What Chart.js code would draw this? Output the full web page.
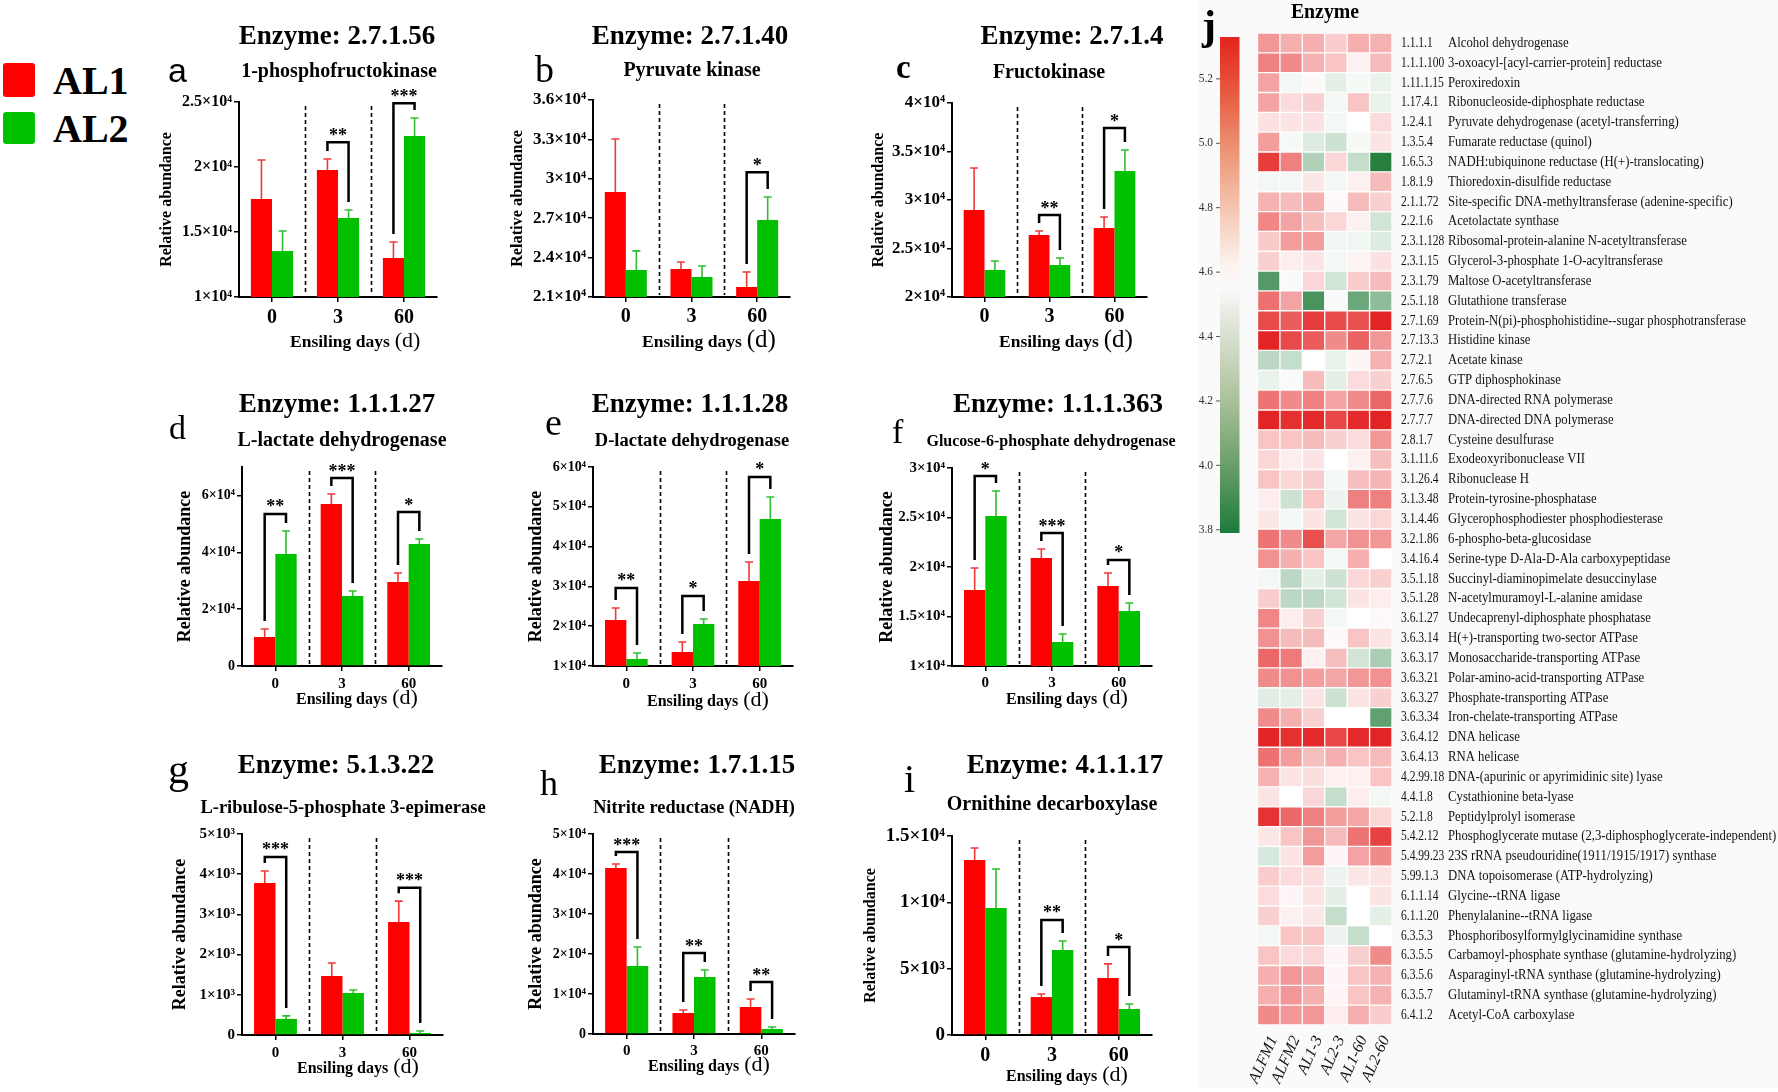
<!DOCTYPE html>
<html>
<head>
<meta charset="utf-8">
<title>Enzyme abundance during ensiling</title>
<script src="https://cdn.jsdelivr.net/npm/chart.js@4.4.1/dist/chart.umd.min.js"></script>
<style>
  html, body { margin: 0; padding: 0; background: #fff; }
  #page { position: relative; width: 1778px; height: 1092px; overflow: hidden; font-family: "Liberation Serif", serif; }
  #page canvas { position: absolute; }
  .sw { position: absolute; left: 3px; width: 32px; border-radius: 3px; }
  .lg { position: absolute; left: 53px; font: bold 40px/40px "Liberation Serif", serif; color: #000; }
  #hmBack { position: absolute; left: 1198px; top: 0; width: 580px; height: 1088px; background: #fafafa; }
</style>
</head>
<body>
<div id="page">
  <div id="hmBack"></div>
  <div class="sw" style="top:63px;height:34px;background:#ff0000"></div>
  <div class="lg" style="top:61px">AL1</div>
  <div class="sw" style="top:112px;height:32px;background:#00c000"></div>
  <div class="lg" style="top:109px">AL2</div>
</div>
<script>
(function () {
  "use strict";

  // ── Bar panel data (mean, SD, significance marks) ──
  var DAYS = ["0", "3", "60"];

  var aAL1 = [17540, 19770, 13000], aAL2 = [13540, 16080, 22380];
  var aSD1 = [3000, 850, 1230], aSD2 = [1540, 610, 1390];
  var aSig = ["", "**", "***"], aSigAt = [0, 21900, 24900];
  var aTicks = [10000, 15000, 20000, 25000];

  var bAL1 = [29000, 23130, 21760], bAL2 = [23060, 22520, 26860];
  var bSD1 = [4030, 530, 1140], bSD2 = [1450, 840, 1750];
  var bSig = ["", "", "*"], bSigAt = [0, 0, 30500];
  var bTicks = [21000, 24000, 27000, 30000, 33000, 36000];

  var cAL1 = [28970, 26390, 27110], cAL2 = [22780, 23300, 32990];
  var cSD1 = [4330, 410, 1130], cSD2 = [930, 720, 2170];
  var cSig = ["", "**", "*"], cSigAt = [0, 28450, 37420];
  var cTicks = [20000, 25000, 30000, 35000, 40000];

  var dAL1 = [10200, 56990, 29550], dAL2 = [39400, 24620, 42920];
  var dSD1 = [2810, 3520, 3170], dSD2 = [8090, 1760, 1760];
  var dSig = ["**", "***", "*"], dSigAt = [53470, 66130, 54170];
  var dTicks = [0, 20000, 40000, 60000];

  var eAL1 = [21560, 13520, 31360], eAL2 = [11760, 20550, 46940];
  var eSD1 = [3010, 2510, 4770], eSD2 = [1510, 1260, 5530];
  var eSig = ["**", "*", "*"], eSigAt = [29600, 27590, 57490];
  var eTicks = [10000, 20000, 30000, 40000, 50000, 60000];

  var fAL1 = [17680, 20910, 18080], fAL2 = [25150, 12420, 15560];
  var fSD1 = [2220, 910, 1310], fSD2 = [2530, 810, 810];
  var fSig = ["*", "***", "*"], fSigAt = [29190, 23430, 20710];
  var fTicks = [10000, 15000, 20000, 25000, 30000];

  var gAL1 = [3780, 1470, 2810], gAL2 = [400, 1045, 50];
  var gSD1 = [300, 320, 520], gSD2 = [75, 75, 50];
  var gSig = ["***", "", "***"], gSigAt = [4430, 0, 3660];
  var gTicks = [0, 1000, 2000, 3000, 4000, 5000];

  var hAL1 = [41500, 5250, 6750], hAL2 = [17000, 14250, 1250];
  var hSD1 = [1000, 750, 2000], hSD2 = [4750, 1750, 500];
  var hSig = ["***", "**", "**"], hSigAt = [45500, 20250, 13000];
  var hTicks = [0, 10000, 20000, 30000, 40000, 50000];

  var iAL1 = [13190, 2860, 4300], iAL2 = [9570, 6410, 1960];
  var iSD1 = [900, 230, 1060], iSD2 = [2940, 680, 380];
  var iSig = ["", "**", "*"], iSigAt = [0, 8670, 6630];
  var iTicks = [0, 5000, 10000, 15000];

  // ── Heatmap data (panel j) ──
  var HM_SAMPLES = ["ALFM1", "ALFM2", "AL1-3", "AL2-3", "AL1-60", "AL2-60"];
  var HM_EC = ["1.1.1.1", "1.1.1.100", "1.11.1.15", "1.17.4.1", "1.2.4.1", "1.3.5.4", "1.6.5.3", "1.8.1.9",
    "2.1.1.72", "2.2.1.6", "2.3.1.128", "2.3.1.15", "2.3.1.79", "2.5.1.18", "2.7.1.69", "2.7.13.3", "2.7.2.1",
    "2.7.6.5", "2.7.7.6", "2.7.7.7", "2.8.1.7", "3.1.11.6", "3.1.26.4", "3.1.3.48", "3.1.4.46", "3.2.1.86",
    "3.4.16.4", "3.5.1.18", "3.5.1.28", "3.6.1.27", "3.6.3.14", "3.6.3.17", "3.6.3.21", "3.6.3.27", "3.6.3.34",
    "3.6.4.12", "3.6.4.13", "4.2.99.18", "4.4.1.8", "5.2.1.8", "5.4.2.12", "5.4.99.23", "5.99.1.3", "6.1.1.14",
    "6.1.1.20", "6.3.5.3", "6.3.5.5", "6.3.5.6", "6.3.5.7", "6.4.1.2"];
  var HM_NAME = ["Alcohol dehydrogenase", "3-oxoacyl-[acyl-carrier-protein] reductase", "Peroxiredoxin",
    "Ribonucleoside-diphosphate reductase", "Pyruvate dehydrogenase (acetyl-transferring)", "Fumarate reductase (quinol)",
    "NADH:ubiquinone reductase (H(+)-translocating)", "Thioredoxin-disulfide reductase",
    "Site-specific DNA-methyltransferase (adenine-specific)", "Acetolactate synthase",
    "Ribosomal-protein-alanine N-acetyltransferase", "Glycerol-3-phosphate 1-O-acyltransferase",
    "Maltose O-acetyltransferase", "Glutathione transferase", "Protein-N(pi)-phosphohistidine--sugar phosphotransferase",
    "Histidine kinase", "Acetate kinase", "GTP diphosphokinase", "DNA-directed RNA polymerase",
    "DNA-directed DNA polymerase", "Cysteine desulfurase", "Exodeoxyribonuclease VII", "Ribonuclease H",
    "Protein-tyrosine-phosphatase", "Glycerophosphodiester phosphodiesterase", "6-phospho-beta-glucosidase",
    "Serine-type D-Ala-D-Ala carboxypeptidase", "Succinyl-diaminopimelate desuccinylase",
    "N-acetylmuramoyl-L-alanine amidase", "Undecaprenyl-diphosphate phosphatase", "H(+)-transporting two-sector ATPase",
    "Monosaccharide-transporting ATPase", "Polar-amino-acid-transporting ATPase", "Phosphate-transporting ATPase",
    "Iron-chelate-transporting ATPase", "DNA helicase", "RNA helicase", "DNA-(apurinic or apyrimidinic site) lyase",
    "Cystathionine beta-lyase", "Peptidylprolyl isomerase",
    "Phosphoglycerate mutase (2,3-diphosphoglycerate-independent)", "23S rRNA pseudouridine(1911/1915/1917) synthase",
    "DNA topoisomerase (ATP-hydrolyzing)", "Glycine--tRNA ligase", "Phenylalanine--tRNA ligase",
    "Phosphoribosylformylglycinamidine synthase", "Carbamoyl-phosphate synthase (glutamine-hydrolyzing)",
    "Asparaginyl-tRNA synthase (glutamine-hydrolyzing)", "Glutaminyl-tRNA synthase (glutamine-hydrolyzing)",
    "Acetyl-CoA carboxylase"];
  var HM_VALUES = [
    [4.90, 4.82, 4.82, 4.72, 4.82, 4.81], [4.98, 4.94, 4.81, 4.75, 4.60, 4.78],
    [4.86, 4.51, 4.57, 4.46, 4.52, 4.48], [4.86, 4.67, 4.71, 4.51, 4.75, 4.48],
    [4.65, 4.64, 4.65, 4.51, 4.55, 4.67], [4.88, 4.52, 4.44, 4.39, 4.52, 4.64],
    [5.21, 4.98, 4.29, 4.69, 4.36, 3.84], [4.51, 4.51, 4.63, 4.51, 4.60, 4.78],
    [4.81, 4.78, 4.82, 4.57, 4.78, 4.71], [4.96, 4.86, 4.77, 4.69, 4.60, 4.40],
    [4.73, 4.88, 4.88, 4.50, 4.50, 4.44], [4.71, 4.61, 4.64, 4.51, 4.59, 4.65],
    [3.99, 4.53, 4.69, 4.40, 4.72, 4.78], [5.03, 4.86, 3.95, 4.53, 4.06, 4.18],
    [5.16, 5.10, 5.21, 5.16, 5.14, 5.29], [5.29, 5.16, 5.10, 4.94, 5.08, 4.90],
    [4.33, 4.36, 4.55, 4.48, 4.58, 4.81], [4.48, 4.53, 4.78, 4.46, 4.67, 4.71],
    [5.02, 4.94, 4.98, 4.86, 4.94, 5.06], [5.29, 5.25, 5.27, 5.17, 5.27, 5.29],
    [4.75, 4.75, 4.78, 4.71, 4.67, 4.90], [4.69, 4.61, 4.64, 4.55, 4.60, 4.77],
    [4.75, 4.69, 4.72, 4.51, 4.77, 4.80], [4.61, 4.39, 4.75, 4.49, 4.98, 4.98],
    [4.63, 4.51, 4.64, 4.40, 4.64, 4.69], [5.02, 4.94, 5.14, 4.85, 4.92, 4.90],
    [4.92, 4.82, 4.75, 4.51, 4.82, 4.55], [4.51, 4.33, 4.46, 4.39, 4.69, 4.71],
    [4.72, 4.33, 4.33, 4.40, 4.64, 4.61], [4.96, 4.61, 4.71, 4.51, 4.55, 4.57],
    [4.92, 4.78, 4.78, 4.57, 4.75, 4.64], [5.06, 5.00, 4.60, 4.77, 4.40, 4.27],
    [4.94, 4.92, 4.88, 4.85, 4.90, 4.92], [4.45, 4.46, 4.64, 4.39, 4.64, 4.71],
    [4.94, 4.82, 4.71, 4.55, 4.55, 4.03], [5.29, 5.25, 5.27, 5.17, 5.27, 5.29],
    [5.03, 4.88, 4.77, 4.82, 4.75, 4.78], [4.81, 4.64, 4.66, 4.60, 4.60, 4.75],
    [4.64, 4.55, 4.69, 4.36, 4.61, 4.51], [5.24, 5.06, 4.98, 4.88, 4.85, 4.69],
    [4.63, 4.75, 4.90, 4.78, 5.02, 5.19], [4.42, 4.64, 4.88, 4.58, 4.86, 4.94],
    [4.72, 4.67, 4.66, 4.49, 4.63, 4.64], [4.67, 4.58, 4.64, 4.46, 4.55, 4.64],
    [4.71, 4.60, 4.63, 4.36, 4.55, 4.46], [4.51, 4.75, 4.75, 4.49, 4.36, 4.55],
    [4.75, 4.67, 4.69, 4.58, 4.71, 4.94], [4.82, 4.90, 4.85, 4.58, 4.75, 4.81],
    [4.82, 4.90, 4.82, 4.58, 4.75, 4.81], [4.94, 4.90, 4.90, 4.61, 4.82, 4.72]];
  var CB_TICKS = [5.2, 5.0, 4.8, 4.6, 4.4, 4.2, 4.0, 3.8];
  var CB_TOP = 5.33, CB_BOTTOM = 3.79, HM_MID = 4.55;

  // ── Style ──
  var SERIF = "'Liberation Serif', 'Times New Roman', serif";
  var RED = "#ff0000", GREEN = "#00c000";
  var ERR_RED = "#f03a3a", ERR_GREEN = "#30be30";
  var YW = 92, XH = 30;
  var page = document.getElementById("page");

  // box: [axis x, top, right, bottom]; band: [canvas top, canvas height]
  var PANELS = [
    { id: "a", al1: aAL1, al2: aAL2, sd1: aSD1, sd2: aSD2, sig: aSig, sigAt: aSigAt, ticks: aTicks, min: 10000, max: 25000,
      title: "Enzyme: 2.7.1.56", name: "1-phosphofructokinase",
      box: [239, 102, 437, 297], band: [0, 365], t: [337, 44], s: [339, 77, 20], L: [168, 82, "34px 'Liberation Sans', sans-serif"],
      yt: 16, yl: [16, 72], xt: [20, 26], xl: [51, 50, 17.5, 22] },
    { id: "b", al1: bAL1, al2: bAL2, sd1: bSD1, sd2: bSD2, sig: bSig, sigAt: bSigAt, ticks: bTicks, min: 21000, max: 36000,
      title: "Enzyme: 2.7.1.40", name: "Pyruvate kinase",
      box: [593, 100, 790, 297], band: [0, 365], t: [690, 44], s: [692, 76, 20], L: [535, 82, "38px " + SERIF],
      yt: 17, yl: [16.3, 75], xt: [20, 25], xl: [49, 50, 17.5, 25] },
    { id: "c", al1: cAL1, al2: cAL2, sd1: cSD1, sd2: cSD2, sig: cSig, sigAt: cSigAt, ticks: cTicks, min: 20000, max: 40000,
      title: "Enzyme: 2.7.1.4", name: "Fructokinase",
      box: [952, 103, 1147, 297], band: [0, 365], t: [1072, 44], s: [1049, 78, 20], L: [896, 78, "bold 33px " + SERIF],
      yt: 17, yl: [16, 73], xt: [20, 25], xl: [47, 50, 17.5, 25] },
    { id: "d", al1: dAL1, al2: dAL2, sd1: dSD1, sd2: dSD2, sig: dSig, sigAt: dSigAt, ticks: dTicks, min: 0, max: 70000,
      title: "Enzyme: 1.1.1.27", name: "L-lactate dehydrogenase",
      box: [242, 467, 442, 666], band: [365, 363], t: [337, 412], s: [342, 446, 20], L: [169, 439, "34px " + SERIF],
      yt: 14, yl: [18, 57], xt: [15, 22], xl: [54, 38, 16, 22] },
    { id: "e", al1: eAL1, al2: eAL2, sd1: eSD1, sd2: eSD2, sig: eSig, sigAt: eSigAt, ticks: eTicks, min: 10000, max: 60000,
      title: "Enzyme: 1.1.1.28", name: "D-lactate dehydrogenase",
      box: [593, 467, 793, 666], band: [365, 363], t: [690, 412], s: [692, 446, 18.5], L: [545, 435, "38px " + SERIF],
      yt: 14, yl: [18, 57], xt: [15, 22], xl: [54, 40, 16, 22] },
    { id: "f", al1: fAL1, al2: fAL2, sd1: fSD1, sd2: fSD2, sig: fSig, sigAt: fSigAt, ticks: fTicks, min: 10000, max: 30000,
      title: "Enzyme: 1.1.1.363", name: "Glucose-6-phosphate dehydrogenase",
      box: [952, 468, 1152, 666], band: [365, 363], t: [1058, 412], s: [1051, 446, 16], L: [892, 443, "34px " + SERIF],
      yt: 15, yl: [18, 65], xt: [15, 21], xl: [54, 38, 16, 22] },
    { id: "g", al1: gAL1, al2: gAL2, sd1: gSD1, sd2: gSD2, sig: gSig, sigAt: gSigAt, ticks: gTicks, min: 0, max: 5000,
      title: "Enzyme: 5.1.3.22", name: "L-ribulose-5-phosphate 3-epimerase",
      box: [242, 834, 443, 1035], band: [728, 364], t: [336, 773], s: [343, 813, 18.5], L: [168, 783, "42px " + SERIF],
      yt: 15, yl: [18, 62], xt: [15, 22], xl: [55, 38, 16, 22] },
    { id: "h", al1: hAL1, al2: hAL2, sd1: hSD1, sd2: hSD2, sig: hSig, sigAt: hSigAt, ticks: hTicks, min: 0, max: 50000,
      title: "Enzyme: 1.7.1.15", name: "Nitrite reductase (NADH)",
      box: [593, 834, 795, 1034], band: [728, 364], t: [697, 773], s: [694, 813, 18.3], L: [540, 795, "36px " + SERIF],
      yt: 14, yl: [18, 57], xt: [15, 21], xl: [55, 37, 16, 22] },
    { id: "i", al1: iAL1, al2: iAL2, sd1: iSD1, sd2: iSD2, sig: iSig, sigAt: iSigAt, ticks: iTicks, min: 0, max: 15000,
      title: "Enzyme: 4.1.1.17", name: "Ornithine decarboxylase",
      box: [952, 836, 1152, 1035], band: [728, 364], t: [1065, 773], s: [1052, 810, 20], L: [904, 792, "40px " + SERIF],
      yt: 19, yl: [16, 81], xt: [20, 26], xl: [54, 46, 16, 22] }
  ];

  var SUP = { 3: "\u00B3", 4: "\u2074" };
  function sciLabel(v) {
    if (v === 0) return "0";
    var e = Math.floor(Math.log10(v) + 1e-9);
    var m = Math.round(v / Math.pow(10, e) * 10) / 10;
    return m + "\u00D710" + SUP[e];
  }

  function makeCanvas(left, top, w, h) {
    var cv = document.createElement("canvas");
    cv.width = w; cv.height = h;
    cv.style.left = left + "px"; cv.style.top = top + "px";
    cv.style.width = w + "px"; cv.style.height = h + "px";
    page.appendChild(cv);
    return cv;
  }

  // ── Bar panels a–i ──
  function panelDecor(p, ox, oy) {
    return {
      id: "decor_" + p.id,
      afterDatasetsDraw: function (chart) {
        var ctx = chart.ctx, xs = chart.scales.x, ys = chart.scales.y, ca = chart.chartArea;
        var m1 = chart.getDatasetMeta(0), m2 = chart.getDatasetMeta(1);
        ctx.save();
        ctx.strokeStyle = "#000";
        ctx.lineWidth = 1.6;
        ctx.setLineDash([4, 3]);
        for (var k = 0; k < DAYS.length - 1; k++) {
          var sx = Math.round(xs.getPixelForValue(k + 0.5)) + 0.5;
          ctx.beginPath(); ctx.moveTo(sx, ca.top + 4); ctx.lineTo(sx, ca.bottom - 2); ctx.stroke();
        }
        ctx.setLineDash([]);

        [[m1, p.al1, p.sd1, ERR_RED], [m2, p.al2, p.sd2, ERR_GREEN]].forEach(function (s) {
          s[0].data.forEach(function (bar, i) {
            var yt = ys.getPixelForValue(s[1][i] + s[2][i]);
            ctx.strokeStyle = s[3];
            ctx.lineWidth = 1.6;
            ctx.beginPath();
            ctx.moveTo(bar.x, bar.y); ctx.lineTo(bar.x, yt);
            ctx.moveTo(bar.x - 4, yt); ctx.lineTo(bar.x + 4, yt);
            ctx.stroke();
          });
        });

        ctx.strokeStyle = "#000";
        ctx.fillStyle = "#000";
        ctx.lineWidth = 2.5;
        ctx.font = "bold 18px " + SERIF;
        ctx.textAlign = "center";
        ctx.textBaseline = "alphabetic";
        p.sig.forEach(function (mark, i) {
          if (!mark) return;
          var xl = m1.data[i].x, xr = m2.data[i].x;
          var yT = ys.getPixelForValue(p.sigAt[i]);
          var yl = ys.getPixelForValue(p.al1[i] + p.sd1[i]) - 8;
          var yr = ys.getPixelForValue(p.al2[i] + p.sd2[i]) - 8;
          ctx.beginPath();
          ctx.moveTo(xl, yl); ctx.lineTo(xl, yT); ctx.lineTo(xr, yT); ctx.lineTo(xr, yr);
          ctx.stroke();
          ctx.fillText(mark, (xl + xr) / 2, yT - 1.5);
        });
        ctx.restore();
      },
      afterDraw: function (chart) {
        var ctx = chart.ctx, xs = chart.scales.x;
        var b = p.box;
        ctx.save();
        ctx.translate(-ox, -oy);
        ctx.fillStyle = "#000";
        ctx.textBaseline = "alphabetic";

        ctx.textAlign = "center";
        ctx.font = "bold 27px " + SERIF;
        ctx.fillText(p.title, p.t[0], p.t[1]);
        ctx.font = "bold " + p.s[2] + "px " + SERIF;
        ctx.fillText(p.name, p.s[0], p.s[1]);

        ctx.textAlign = "left";
        ctx.font = p.L[2];
        ctx.fillText(p.id, p.L[0], p.L[1]);

        // day labels under the axis
        ctx.textAlign = "center";
        ctx.font = "bold " + p.xt[0] + "px " + SERIF;
        DAYS.forEach(function (d, i) {
          ctx.fillText(d, xs.getPixelForValue(i) + ox, b[3] + p.xt[1]);
        });

        // x title: "Ensiling days (d)"
        ctx.textAlign = "left";
        ctx.font = "bold " + p.xl[2] + "px " + SERIF;
        var x0 = b[0] + p.xl[0];
        ctx.fillText("Ensiling days", x0, b[3] + p.xl[1]);
        var w = ctx.measureText("Ensiling days").width;
        ctx.font = p.xl[3] + "px " + SERIF;
        ctx.fillText("(d)", x0 + w + 5, b[3] + p.xl[1]);

        // y title
        ctx.save();
        ctx.translate(b[0] - p.yl[1], (b[1] + b[3]) / 2);
        ctx.rotate(-Math.PI / 2);
        ctx.textAlign = "center";
        ctx.textBaseline = "middle";
        ctx.font = "bold " + p.yl[0] + "px " + SERIF;
        ctx.fillText("Relative abundance", 0, 0);
        ctx.restore();

        ctx.restore();
      }
    };
  }

  PANELS.forEach(function (p) {
    var b = p.box;
    var ox = b[0] - 100, oy = p.band[0];
    var w = b[2] - b[0] + 160, h = p.band[1];
    var cv = makeCanvas(ox, oy, w, h);
    var axisGrid = { display: true, drawOnChartArea: false, drawTicks: true, tickLength: 5, color: "#000", lineWidth: 1.5, offset: false };
    new Chart(cv, {
      type: "bar",
      data: {
        labels: DAYS,
        datasets: [
          { label: "AL1", data: p.al1, backgroundColor: RED, borderWidth: 0, barPercentage: 1, categoryPercentage: 0.64 },
          { label: "AL2", data: p.al2, backgroundColor: GREEN, borderWidth: 0, barPercentage: 1, categoryPercentage: 0.64 }
        ]
      },
      options: {
        responsive: false,
        animation: false,
        devicePixelRatio: 1,
        layout: { padding: { left: 100 - YW, right: 60, top: b[1] - oy, bottom: oy + h - b[3] - XH } },
        plugins: { legend: { display: false }, tooltip: { enabled: false } },
        scales: {
          x: {
            grid: axisGrid,
            border: { display: true, color: "#000", width: 2 },
            ticks: { display: false },
            afterFit: function (s) { s.height = XH; }
          },
          y: {
            min: p.min, max: p.max,
            grid: axisGrid,
            border: { display: true, color: "#000", width: 2 },
            afterBuildTicks: function (s) { s.ticks = p.ticks.map(function (v) { return { value: v }; }); },
            ticks: { autoSkip: false, padding: 2, color: "#000", font: { family: SERIF, size: p.yt, weight: "bold" }, callback: sciLabel },
            afterFit: function (s) { s.width = YW; }
          }
        }
      },
      plugins: [panelDecor(p, ox, oy)]
    });
  });

  // ── Heatmap panel j ──
  function mix(a, c, t) {
    return "rgb(" + Math.round(a[0] + (c[0] - a[0]) * t) + "," + Math.round(a[1] + (c[1] - a[1]) * t) + "," + Math.round(a[2] + (c[2] - a[2]) * t) + ")";
  }
  function heatColor(v) {
    if (v >= HM_MID) return mix([255, 255, 255], [226, 24, 24], Math.min(1, (v - HM_MID) / (CB_TOP - HM_MID)));
    return mix([255, 255, 255], [24, 118, 48], Math.min(1, (HM_MID - v) / (HM_MID - CB_BOTTOM)));
  }
  var CB_STOPS = [[5.33, "#e3241f"], [5.2, "#e64c37"], [5.0, "#ec8d6d"], [4.8, "#f5c5b0"], [4.62, "#fcf3ef"],
    [4.55, "#fafafa"], [4.45, "#e2e7dc"], [4.3, "#c2d0b4"], [4.2, "#a9c199"], [4.0, "#6a9e69"], [3.79, "#1b7b3a"]];

  function squeezed(ctx, text, x, y, sx) {
    ctx.save();
    ctx.translate(x, y);
    ctx.scale(sx, 1);
    ctx.fillText(text, 0, 0);
    ctx.restore();
  }

  var HX = 1190;
  var hmDecor = {
    id: "heatDecor",
    afterDraw: function (chart) {
      var ctx = chart.ctx, xs = chart.scales.x, ys = chart.scales.y;
      ctx.save();
      ctx.translate(-HX, 0);

      // colour bar
      var cbTop = 37, cbBot = 533;
      var grad = ctx.createLinearGradient(0, cbTop, 0, cbBot);
      CB_STOPS.forEach(function (s) {
        grad.addColorStop((CB_TOP - s[0]) / (CB_TOP - CB_BOTTOM), s[1]);
      });
      ctx.fillStyle = grad;
      ctx.fillRect(1220, cbTop, 19.5, cbBot - cbTop);
      ctx.strokeStyle = "#555";
      ctx.lineWidth = 1;
      ctx.fillStyle = "#333";
      ctx.font = "12px " + SERIF;
      ctx.textAlign = "right";
      ctx.textBaseline = "middle";
      CB_TICKS.forEach(function (v) {
        var y = cbTop + (CB_TOP - v) / (CB_TOP - CB_BOTTOM) * (cbBot - cbTop);
        ctx.beginPath(); ctx.moveTo(1216, y); ctx.lineTo(1220, y); ctx.stroke();
        squeezed(ctx, v.toFixed(1), 1213, y, 0.95);
      });

      // panel letter and heading
      ctx.fillStyle = "#000";
      ctx.textBaseline = "alphabetic";
      ctx.textAlign = "left";
      ctx.font = "bold 42px " + SERIF;
      ctx.fillText("j", 1202, 39);
      ctx.textAlign = "center";
      ctx.font = "bold 22px " + SERIF;
      squeezed(ctx, "Enzyme", 1325, 18, 0.9);

      // row labels
      ctx.fillStyle = "#111";
      ctx.font = "15px " + SERIF;
      ctx.textAlign = "left";
      ctx.textBaseline = "middle";
      HM_EC.forEach(function (ec, i) {
        var y = ys.getPixelForValue(i);
        squeezed(ctx, ec, 1401, y, 0.77);
        squeezed(ctx, HM_NAME[i], 1448, y, 0.85);
      });

      // sample labels
      ctx.font = "italic 16px " + SERIF;
      ctx.textAlign = "right";
      HM_SAMPLES.forEach(function (s, c) {
        var x = xs.getPixelForValue(c + 0.5) + HX;
        ctx.save();
        ctx.translate(x + 5, chart.chartArea.bottom + 12);
        ctx.rotate(-66 * Math.PI / 180);
        ctx.fillText(s, 0, 0);
        ctx.restore();
      });
      ctx.restore();
    }
  };

  var hm = makeCanvas(HX, 0, 588, 1092);
  new Chart(hm, {
    type: "bar",
    data: {
      labels: HM_EC,
      datasets: HM_SAMPLES.map(function (s, c) {
        return {
          label: s,
          data: HM_EC.map(function () { return 1; }),
          backgroundColor: HM_VALUES.map(function (row) { return heatColor(row[c]); }),
          borderColor: "rgba(255,255,255,0.6)",
          borderWidth: 1,
          borderSkipped: false,
          barPercentage: 1,
          categoryPercentage: 1
        };
      })
    },
    options: {
      indexAxis: "y",
      responsive: false,
      animation: false,
      devicePixelRatio: 1,
      layout: { padding: { left: 67.5, right: 386, top: 33, bottom: 67 } },
      plugins: { legend: { display: false }, tooltip: { enabled: false } },
      scales: {
        x: { display: false, stacked: true, min: 0, max: HM_SAMPLES.length },
        y: { display: false, stacked: true }
      }
    },
    plugins: [hmDecor]
  });
})();
</script>
</body>
</html>
